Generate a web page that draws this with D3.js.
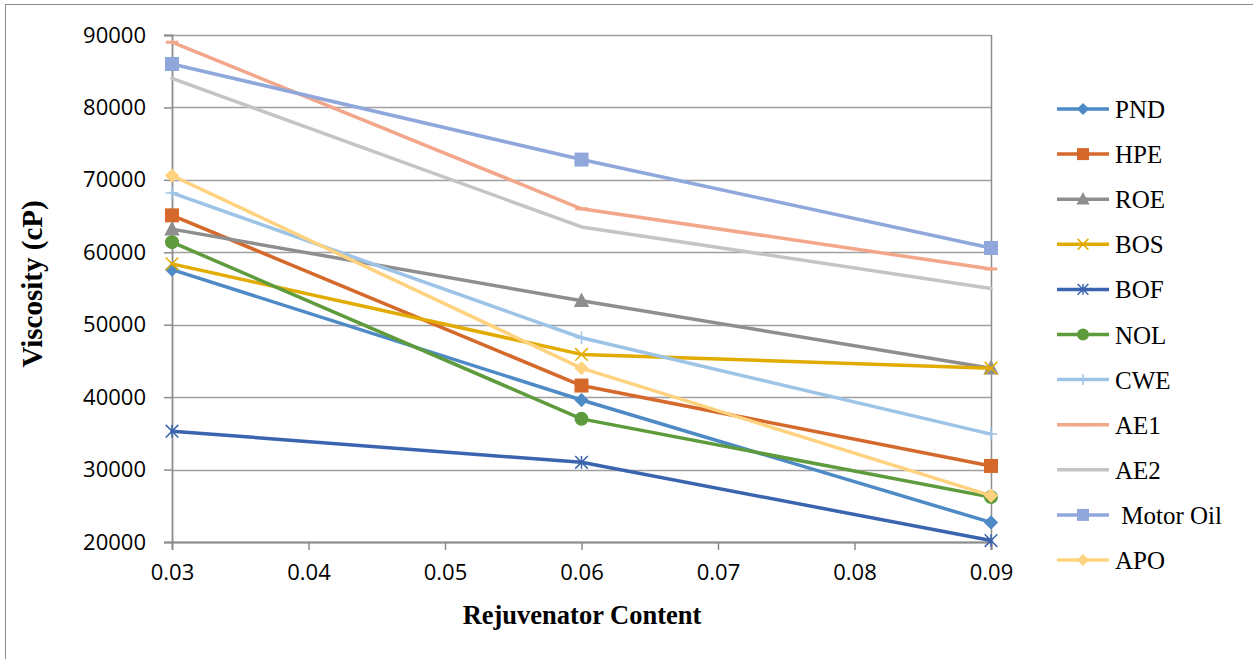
<!DOCTYPE html>
<html><head><meta charset="utf-8">
<script src="https://cdn.jsdelivr.net/npm/d3@7/dist/d3.min.js"></script>
<style>body{margin:0;background:#fff}svg{display:block}</style>
</head><body><svg id="c" width="1253" height="659"></svg>
<script>
const xValues = [0.03, 0.06, 0.09];
const xTicks = [0.03, 0.04, 0.05, 0.06, 0.07, 0.08, 0.09];
const yTicks = [20000, 30000, 40000, 50000, 60000, 70000, 80000, 90000];
const seriesNames = ["PND","HPE","ROE","BOS","BOF","NOL","CWE","AE1","AE2"," Motor Oil","APO"];
const PND = [57600, 39600, 22700];
const HPE = [65100, 41600, 30500];
const ROE = [63200, 53300, 44000];
const BOS = [58400, 45900, 44000];
const BOF = [35300, 31000, 20200];
const NOL = [61400, 37000, 26200];
const CWE = [68200, 48200, 34900];
const AE1 = [89000, 66000, 57700];
const AE2 = [84000, 63500, 55000];
const MotorOil = [86000, 72800, 60600];
const APO = [70600, 44000, 26400];
const seriesValues = [PND,HPE,ROE,BOS,BOF,NOL,CWE,AE1,AE2,MotorOil,APO];
const colors = ["#4E8AC6","#D5692B","#8E8E8E","#E2AB00","#3A64AE","#5E9B3C","#9DC3E6","#F3A78A","#C4C4C4","#8FA7DA","#FFD27F"];
const markers = ["diamond","square","triangle","x","star","circle","plus","dash","none","square","diamond"];

const svg = d3.select("#c");
const L=172, R=991, T=35, B=542;
const x = d3.scaleLinear().domain([0.03,0.09]).range([L,R]);
const y = d3.scaleLinear().domain([20000,90000]).range([B,T]);

// outer frame
svg.append("rect").attr("x",5.5).attr("y",4.5).attr("width",1260).attr("height",700)
  .attr("fill","none").attr("stroke","#8c8c8c").attr("stroke-width",1);

// gridlines
svg.append("g").selectAll("line").data(yTicks).join("line")
  .attr("x1",L).attr("x2",R).attr("y1",d=>Math.round(y(d))+0.5).attr("y2",d=>Math.round(y(d))+0.5)
  .attr("stroke","#a0a0a0").attr("stroke-width",1.5);
// right border
svg.append("line").attr("x1",R+0.5).attr("x2",R+0.5).attr("y1",T).attr("y2",B+8)
  .attr("stroke","#8c8c8c").attr("stroke-width",1.5);

// axes
const yAxis = svg.append("g").attr("transform",`translate(${L},0)`)
  .call(d3.axisLeft(y).tickValues(yTicks).tickSize(8).tickPadding(18).tickFormat(d3.format("d")));
const xAxis = svg.append("g").attr("transform",`translate(0,${B})`)
  .call(d3.axisBottom(x).tickValues(xTicks).tickSize(8).tickPadding(14).tickFormat(d3.format(".2f")));
[yAxis,xAxis].forEach(a=>{
  a.select(".domain").attr("stroke","#8c8c8c").attr("stroke-width",1.8);
  a.selectAll(".tick line").attr("stroke","#8c8c8c").attr("stroke-width",1.5);
  a.selectAll("text").attr("fill","#000").style("font-family","'Open Sans', sans-serif").style("font-size","22px");
});

// axis titles
svg.append("text").attr("x",582).attr("y",624).attr("text-anchor","middle")
  .style("font-family","'Liberation Serif', serif").style("font-weight","bold").style("font-size","26.5px")
  .text("Rejuvenator Content");
svg.append("text").attr("transform","translate(42,284) rotate(-90)").attr("text-anchor","middle")
  .style("font-family","'Liberation Serif', serif").style("font-weight","bold").style("font-size","29px")
  .text("Viscosity (cP)");

function drawMarker(g, type, cx, cy, col, s){
  if(type==="diamond"){ g.append("path").attr("transform",`translate(${cx},${cy}) rotate(45)`).attr("d",`M${-s*0.36},${-s*0.36}h${s*0.72}v${s*0.72}h${-s*0.72}z`).attr("fill",col); }
  else if(type==="square"){ g.append("rect").attr("x",cx-s/2).attr("y",cy-s/2).attr("width",s).attr("height",s).attr("fill",col); }
  else if(type==="triangle"){ g.append("path").attr("d",`M${cx},${cy-s*0.6}L${cx+s*0.55},${cy+s*0.45}L${cx-s*0.55},${cy+s*0.45}Z`).attr("fill",col); }
  else if(type==="circle"){ g.append("circle").attr("cx",cx).attr("cy",cy).attr("r",s/2).attr("fill",col); }
  else if(type==="x"){ const h=s*0.45; g.append("path").attr("d",`M${cx-h},${cy-h}L${cx+h},${cy+h}M${cx-h},${cy+h}L${cx+h},${cy-h}`).attr("stroke",col).attr("stroke-width",1.5); }
  else if(type==="star"){ const h=s*0.45; g.append("path").attr("d",`M${cx-h},${cy-h}L${cx+h},${cy+h}M${cx-h},${cy+h}L${cx+h},${cy-h}M${cx},${cy-h}L${cx},${cy+h}`).attr("stroke",col).attr("stroke-width",1.5); }
  else if(type==="plus"){ const h=s*0.45; g.append("path").attr("d",`M${cx},${cy-h}L${cx},${cy+h}M${cx-h},${cy}L${cx+h},${cy}`).attr("stroke",col).attr("stroke-width",1.5); }
  else if(type==="dash"){ const h=s*0.45; g.append("path").attr("d",`M${cx-h},${cy}L${cx+h},${cy}`).attr("stroke",col).attr("stroke-width",3); }
}

// series lines
const line = d3.line().x((d,i)=>x(xValues[i])).y(d=>y(d));
const gS = svg.append("g");
seriesValues.forEach((vals,k)=>{
  gS.append("path").datum(vals).attr("d",line).attr("fill","none").attr("stroke",colors[k])
    .attr("stroke-width",3.5).attr("stroke-linejoin","round").attr("stroke-linecap","round");
  vals.forEach((v,i)=> drawMarker(gS, markers[k], x(xValues[i]), y(v), colors[k], 14));
});

// legend
const lg = svg.append("g");
seriesNames.forEach((n,k)=>{
  const cy = 109 + k*45.1;
  lg.append("line").attr("x1",1057).attr("x2",1109).attr("y1",cy).attr("y2",cy)
    .attr("stroke",colors[k]).attr("stroke-width",3.5);
  drawMarker(lg, markers[k], 1083, cy, colors[k], 12);
  lg.append("text").attr("x",1115).attr("y",cy+9).attr("xml:space","preserve")
    .style("font-family","'Liberation Serif', serif").style("font-size","25px").text(n);
});
</script></body></html>
